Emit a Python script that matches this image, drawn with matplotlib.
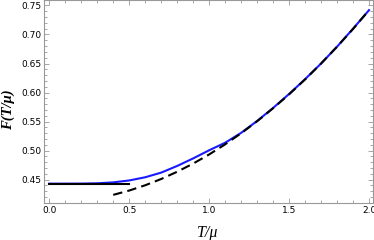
import matplotlib
matplotlib.use("Agg")
import matplotlib.pyplot as plt
from matplotlib.ticker import MultipleLocator

# Full curve F(T/mu)
t_full = [0.0, 0.1, 0.2, 0.3, 0.4, 0.5, 0.6, 0.7, 0.8, 0.9, 1.0,
          1.1, 1.2, 1.3, 1.4, 1.5, 1.6, 1.7, 1.8, 1.9, 2.0]
f_full = [0.4430, 0.4430, 0.4431, 0.4436, 0.4452, 0.4485, 0.4540, 0.4620,
          0.4735, 0.4865, 0.5005, 0.5135, 0.5305, 0.5510, 0.5735, 0.5975,
          0.6230, 0.6500, 0.6790, 0.7100, 0.7420]

# High-temperature approximation (dashed)
t_high = [0.4, 0.5, 0.6, 0.7, 0.8, 0.9, 1.0, 1.1, 1.2, 1.3, 1.4,
          1.5, 1.6, 1.7, 1.8, 1.9, 2.0]
f_high = [0.4237, 0.4311, 0.4402, 0.4510, 0.4635, 0.4776, 0.4933, 0.5107,
          0.5298, 0.5505, 0.5729, 0.5969, 0.6226, 0.6500, 0.6790, 0.7096,
          0.7420]

# Low-temperature value (flat line)
t_low = [0.0, 0.5]
f_low = [0.443, 0.443]

fig = plt.figure(figsize=(3.74, 2.40), dpi=100)
ax = fig.add_axes([0.1176, 0.155, 0.879, 0.843])

ax.plot(t_full, f_full, color="#1a1aff", lw=1.5, zorder=2)
ax.plot(t_low, f_low, color="black", lw=1.5, zorder=3)
ax.plot(t_high, f_high, color="black", lw=1.5, dashes=(4.5, 2.5), zorder=4)

ax.set_xlim(-0.033, 2.023)
ax.set_ylim(0.410, 0.7586)

ax.xaxis.set_major_locator(MultipleLocator(0.5))
ax.xaxis.set_minor_locator(MultipleLocator(0.1))
ax.yaxis.set_major_locator(MultipleLocator(0.05))
ax.yaxis.set_minor_locator(MultipleLocator(0.01))
ax.xaxis.set_major_formatter(matplotlib.ticker.FormatStrFormatter("%.1f"))
ax.yaxis.set_major_formatter(matplotlib.ticker.FormatStrFormatter("%.2f"))

for s in ax.spines.values():
    s.set_color("#999999")
    s.set_linewidth(0.8)

ax.tick_params(which="both", direction="in", top=True, right=True,
               color="#999999", width=0.6, labelsize=6.5, pad=2)
ax.tick_params(which="major", length=3.5)
ax.tick_params(which="minor", length=2)

ax.set_xlabel("T/\u03bc", family="Liberation Serif", style="italic",
              fontsize=11.5, va="center")
ax.xaxis.set_label_coords(0.497, -0.148)
ax.set_ylabel("F(T/\u03bc)", family="Liberation Serif", style="italic",
              weight="bold", fontsize=10.5, va="center")
ax.yaxis.set_label_coords(-0.109, 0.458)

fig.savefig("out.png", dpi=100)
